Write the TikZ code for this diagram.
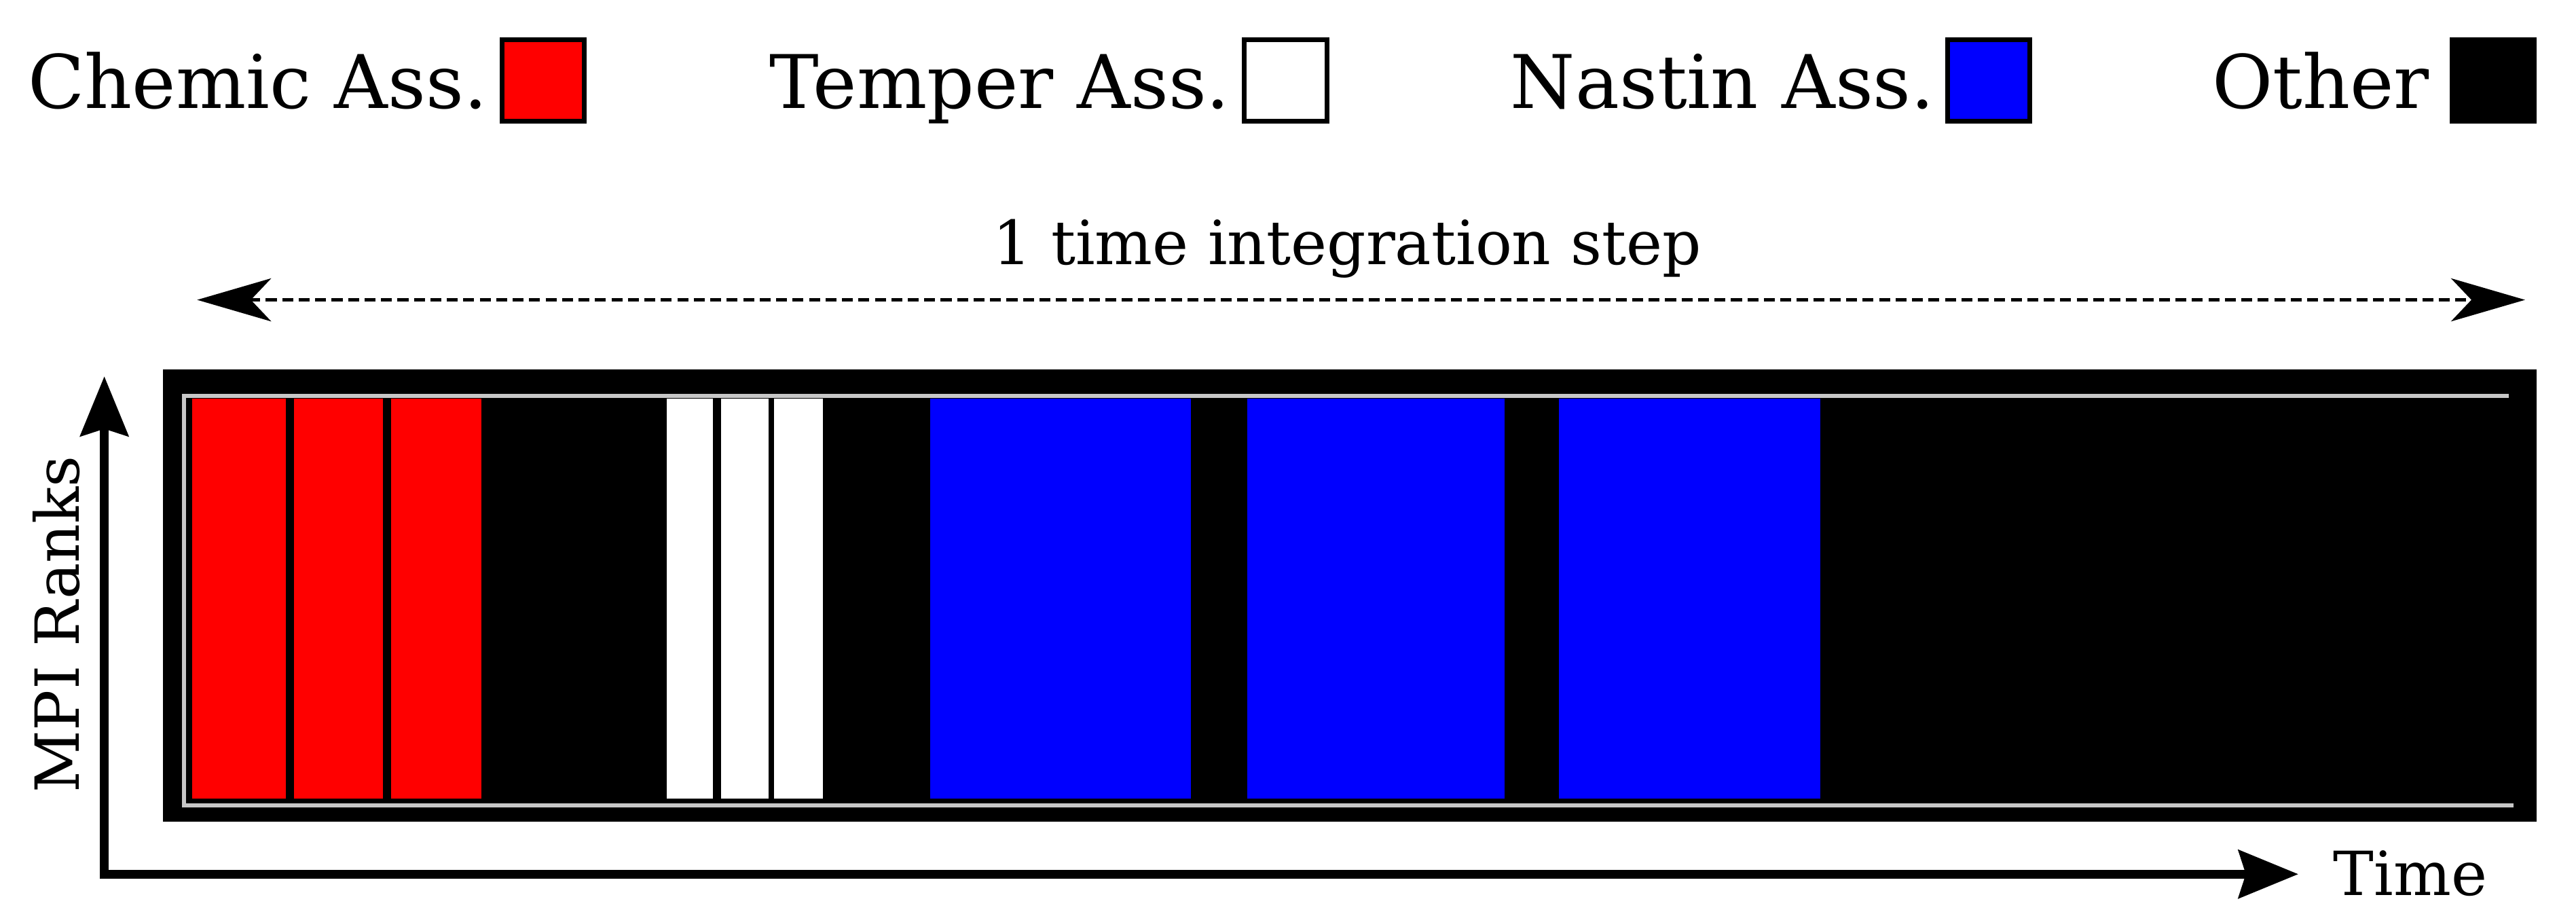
\documentclass[tikz,border=0pt]{standalone}
\usepackage{fontspec}
\setmainfont{DejaVu Serif}
\usetikzlibrary{arrows.meta, positioning}

\tikzset{
  legtxt/.style={inner sep=0pt, font=\fontsize{31}{37}\selectfont},
  legbox/.style={draw=black, line width=2pt, inner sep=0pt, minimum width=34.5pt, minimum height=34pt},
  axlbl/.style={inner sep=0pt, font=\fontsize{25.5}{30}\selectfont},
  rankline/.style={draw=black!22, line width=1.7pt},
  axisline/.style={line width=3.7pt, {Stealth[length=25pt, width=20pt, inset=3pt]}-{Stealth[length=25pt, width=20pt, inset=3pt]}},
  steparrow/.style={line width=1.5pt, dash pattern=on 4.6pt off 2.3pt, {Stealth[length=31pt, width=18pt, inset=8.5pt]}-{Stealth[length=31pt, width=18pt, inset=8.5pt]}},
}

\begin{document}
\begin{tikzpicture}[x=0.024196cm, y=-0.024196cm]
    \useasboundingbox (0,0) rectangle (1568,554.7);

    % Legende
    \node[legbox, fill=red] (chembox) at (330.5,49) {};
    \node[legbox, fill=white] (tempbox) at (782.5,49) {};
    \node[legbox, fill=blue] (nastbox) at (1210.5,49) {};
    \node[legbox, fill=black] (othbox) at (1517.5,49) {};
    \node[legtxt, anchor=base east] (chemtxt) at (297,66) {Chemic Ass.};
    \node[legtxt, anchor=base east] (temptxt) at (749,66) {Temper Ass.};
    \node[legtxt, anchor=base east] (nasttxt) at (1178,66) {Nastin Ass.};
    \node[legtxt, anchor=base east] (othtxt) at (1479,66) {Other};

    % Zeitschritt
    \node[axlbl, anchor=base] (steplbl) at (820,161) {1 time integration step};
    \coordinate (stepL) at (120,182.5);
    \coordinate (stepR) at (1537,182.5);
    \draw[steparrow] (stepL) -- (stepR);

    % Rahmen der Spur
    \fill[black] (99,225) rectangle (1544,500);
    \draw[rankline] (1527,241) -- (112,241) -- (112,490) -- (1530,490);

    % Chemic
    \fill[red] (117,242.5) rectangle (174,486);
    \fill[red] (179,242.5) rectangle (233,486);
    \fill[red] (238,242.5) rectangle (293,486);
    % Temper
    \fill[white] (406,242.5) rectangle (434,486);
    \fill[white] (439,242.5) rectangle (468,486);
    \fill[white] (471,242.5) rectangle (501,486);
    % Nastin
    \fill[blue] (566,242.5) rectangle (725,486);
    \fill[blue] (759,242.5) rectangle (916,486);
    \fill[blue] (949,242.5) rectangle (1108,486);

    % Achsen
    \coordinate (origin) at (63.5,532);
    \coordinate (ranktop) at (63.5,229);
    \coordinate (timeend) at (1399,532);
    \draw[axisline] (ranktop) -- (origin) -- (timeend);
    \node[axlbl, anchor=base west] (timelbl) at (1420,545) {Time};
    \node[axlbl, rotate=90, anchor=base] (ranklbl) at (48,380) {MPI Ranks};
\end{tikzpicture}
\end{document}
